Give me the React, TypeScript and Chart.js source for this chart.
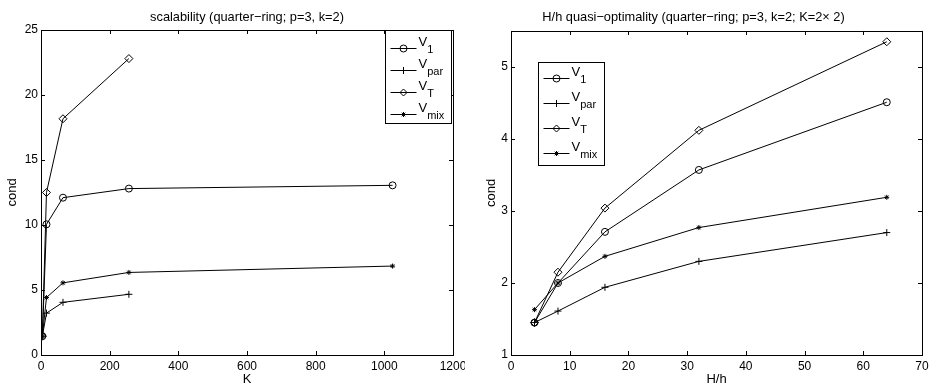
import React, { useEffect, useRef } from 'react';
import { Chart, registerables } from 'chart.js';

Chart.register(...registerables);

// ---------- data ----------
const leftK = [4, 16, 64, 256, 1024];
const leftKShort = [4, 16, 64, 256];
const leftV1 = [1.45, 10.05, 12.1, 12.8, 13.05];
const leftVpar = [1.45, 3.22, 4.05, 4.67];
const leftVT = [1.45, 12.5, 18.17, 22.8];
const leftVmix = [1.45, 4.42, 5.55, 6.35, 6.84];

const rightH = [4, 8, 16, 32, 64];
const rightV1 = [1.45, 2.0, 2.71, 3.57, 4.51];
const rightVpar = [1.45, 1.61, 1.94, 2.3, 2.7];
const rightVT = [1.45, 2.15, 3.04, 4.12, 5.35];
const rightVmix = [1.63, 2.0, 2.37, 2.77, 3.19];

const seriesSubs = ['1', 'par', 'T', 'mix'];
const seriesMarkers = ['circle', 'cross', 'rectRot', 'star'];
const seriesRadius = [3.5, 3.5, 4, 2.5];

const leftTitle = 'scalability (quarter\u2212ring; p=3, k=2)';
const rightTitle = 'H/h quasi\u2212optimality (quarter\u2212ring; p=3, k=2; K=2\u00d7 2)';
const yLabel = 'cond';
const leftXLabel = 'K';
const rightXLabel = 'H/h';

const FAMILY = "'Liberation Sans', Arial, Helvetica, sans-serif";

function pts(xs: number[], ys: number[]) {
  return ys.map((y, i) => ({ x: xs[i], y }));
}

function drawMarker(ctx: CanvasRenderingContext2D, style: string, x: number, y: number, r: number) {
  ctx.beginPath();
  if (style === 'circle') {
    ctx.arc(x, y, r, 0, Math.PI * 2);
  } else if (style === 'cross') {
    ctx.moveTo(x - r, y); ctx.lineTo(x + r, y);
    ctx.moveTo(x, y - r); ctx.lineTo(x, y + r);
  } else if (style === 'rectRot') {
    ctx.moveTo(x, y - r); ctx.lineTo(x + r, y); ctx.lineTo(x, y + r); ctx.lineTo(x - r, y); ctx.closePath();
  } else {
    ctx.moveTo(x - r, y); ctx.lineTo(x + r, y);
    ctx.moveTo(x, y - r); ctx.lineTo(x, y + r);
    const d = r * 0.7071;
    ctx.moveTo(x - d, y - d); ctx.lineTo(x + d, y + d);
    ctx.moveTo(x - d, y + d); ctx.lineTo(x + d, y - d);
  }
  ctx.stroke();
}

const framePlugin = {
  id: 'matlabFrame',
  afterDraw(chart: any, _args: any, opts: any) {
    const { ctx, chartArea: a, scales } = chart;
    ctx.save();
    ctx.strokeStyle = '#000';
    ctx.lineWidth = 1;
    const tl = 4;
    ctx.beginPath();
    scales.x.ticks.forEach((t: any) => {
      const px = Math.round(scales.x.getPixelForValue(t.value)) + 0.5;
      ctx.moveTo(px, a.bottom); ctx.lineTo(px, a.bottom - tl);
      ctx.moveTo(px, a.top); ctx.lineTo(px, a.top + tl);
    });
    scales.y.ticks.forEach((t: any) => {
      const py = Math.round(scales.y.getPixelForValue(t.value)) + 0.5;
      ctx.moveTo(a.left, py); ctx.lineTo(a.left + tl, py);
      ctx.moveTo(a.right, py); ctx.lineTo(a.right - tl, py);
    });
    ctx.stroke();
    ctx.strokeRect(Math.round(a.left) + 0.5, Math.round(a.top) + 0.5, Math.round(a.right - a.left), Math.round(a.bottom - a.top));

    // legend
    const lg = opts.legend;
    const bx = Math.round(lg.anchorRight ? a.right - lg.dx - lg.w : a.left + lg.dx) + 0.5;
    const by = Math.round(a.top + lg.dy) + 0.5;
    ctx.fillStyle = '#fff';
    ctx.fillRect(bx, by, lg.w, lg.h);
    ctx.strokeRect(bx, by, lg.w, lg.h);
    seriesSubs.forEach((sub, i) => {
      const ly = Math.round(by + lg.row0 + i * lg.rowStep) + 0.5;
      ctx.beginPath();
      ctx.moveTo(bx + 5, ly); ctx.lineTo(bx + 31, ly);
      ctx.stroke();
      drawMarker(ctx, seriesMarkers[i], bx + 18, ly, Math.min(seriesRadius[i], 3.5));
      ctx.fillStyle = '#000';
      ctx.textBaseline = 'alphabetic';
      ctx.textAlign = 'left';
      ctx.font = `13px ${FAMILY}`;
      const tx = bx + 33;
      ctx.fillText('V', tx, ly - 3);
      const vw = ctx.measureText('V').width;
      ctx.font = `11px ${FAMILY}`;
      ctx.fillText(sub, tx + vw, ly + 4);
    });
    ctx.restore();
  },
};

function makeDatasets(xs: number[], xsShort: number[] | null, v1: number[], vpar: number[], vt: number[], vmix: number[]) {
  const series = [v1, vpar, vt, vmix];
  return series.map((ys, i) => {
    const xv = xsShort && ys.length === xsShort.length ? xsShort : xs;
    return {
      label: 'V' + seriesSubs[i],
      data: pts(xv, ys),
      showLine: true,
      borderColor: '#000',
      borderWidth: 1,
      pointStyle: seriesMarkers[i],
      pointRadius: seriesRadius[i],
      pointBorderColor: '#000',
      pointBackgroundColor: 'rgba(0,0,0,0)',
      pointBorderWidth: 1,
      fill: false,
      tension: 0,
    };
  });
}

function makeOptions(cfg: any) {
  const tickFont = { family: FAMILY, size: 12 };
  const labelFont = { family: FAMILY, size: 13 };
  return {
    animation: false,
    responsive: false,
    devicePixelRatio: 1,
    layout: { padding: { left: 0, right: cfg.padRight, top: 0, bottom: 0 } },
    plugins: {
      legend: { display: false },
      tooltip: { enabled: false },
      title: {
        display: true,
        fullSize: cfg.titleFull,
        text: cfg.title,
        color: '#000',
        font: { family: FAMILY, size: 12.8, weight: 'normal' },
        padding: { top: 10, bottom: cfg.titleBottom },
      },
      matlabFrame: { legend: cfg.legend },
    },
    scales: {
      x: {
        type: 'linear',
        min: cfg.xMin,
        max: cfg.xMax,
        ticks: { stepSize: cfg.xStep, color: '#000', font: tickFont, padding: 4, maxRotation: 0, callback: (v: any) => String(v) },
        grid: { display: false, drawTicks: false },
        border: { display: false },
        title: { display: true, text: cfg.xLabel, color: '#000', font: labelFont, padding: { top: 0, bottom: -2 } },
        afterFit: (s: any) => { s.height = 30; s.paddingLeft = 0; s.paddingRight = 0; },
      },
      y: {
        type: 'linear',
        min: cfg.yMin,
        max: cfg.yMax,
        ticks: { stepSize: cfg.yStep, color: '#000', font: tickFont, padding: 3, callback: (v: any) => String(v) },
        grid: { display: false, drawTicks: false },
        border: { display: false },
        title: { display: true, text: yLabel, color: '#000', font: labelFont, padding: { top: cfg.yTitlePad, bottom: 0 } },
        afterBuildTicks: (s: any) => { s.ticks = s.ticks.filter((t: any) => Math.abs(t.value - Math.round(t.value)) < 1e-9); },
        afterFit: (s: any) => { s.width = cfg.yWidth; s.paddingTop = 0; s.paddingBottom = 0; },
      },
    },
  };
}

function Panel(props: { cfg: any; datasets: any[]; left: number }) {
  const ref = useRef<HTMLCanvasElement>(null);
  useEffect(() => {
    if (!ref.current) return;
    const chart = new Chart(ref.current, {
      type: 'scatter',
      data: { datasets: props.datasets } as any,
      options: makeOptions(props.cfg) as any,
      plugins: [framePlugin as any],
    });
    return () => chart.destroy();
  }, []);
  return (
    <canvas
      ref={ref}
      width={465}
      height={385}
      style={{ position: 'absolute', left: props.left, top: 0, width: 465, height: 385 }}
    />
  );
}

export default function App() {
  const leftCfg = {
    title: leftTitle, xLabel: leftXLabel, titleFull: false,
    xMin: 0, xMax: 1200, xStep: 200, yMin: 0, yMax: 25, yStep: 5,
    padRight: 12, titleBottom: 4.6, yWidth: 41, yTitlePad: 5,
    legend: { anchorRight: true, dx: 2, dy: 0, w: 66, h: 93, row0: 17, rowStep: 22 },
  };
  const rightCfg = {
    title: rightTitle, xLabel: rightXLabel, titleFull: true,
    xMin: 0, xMax: 70, xStep: 10, yMin: 1, yMax: 5.5, yStep: 1,
    padRight: 8, titleBottom: 5.6, yWidth: 46, yTitlePad: 19,
    legend: { anchorRight: false, dx: 27, dy: 31, w: 66, h: 103, row0: 15, rowStep: 25 },
  };
  const leftDs = makeDatasets(leftK, leftKShort, leftV1, leftVpar, leftVT, leftVmix);
  const rightDs = makeDatasets(rightH, null, rightV1, rightVpar, rightVT, rightVmix);
  return (
    <div style={{ position: 'absolute', left: 0, top: 0, width: 930, height: 385, background: '#fff' }}>
      <Panel cfg={leftCfg} datasets={leftDs} left={0} />
      <Panel cfg={rightCfg} datasets={rightDs} left={465} />
    </div>
  );
}
